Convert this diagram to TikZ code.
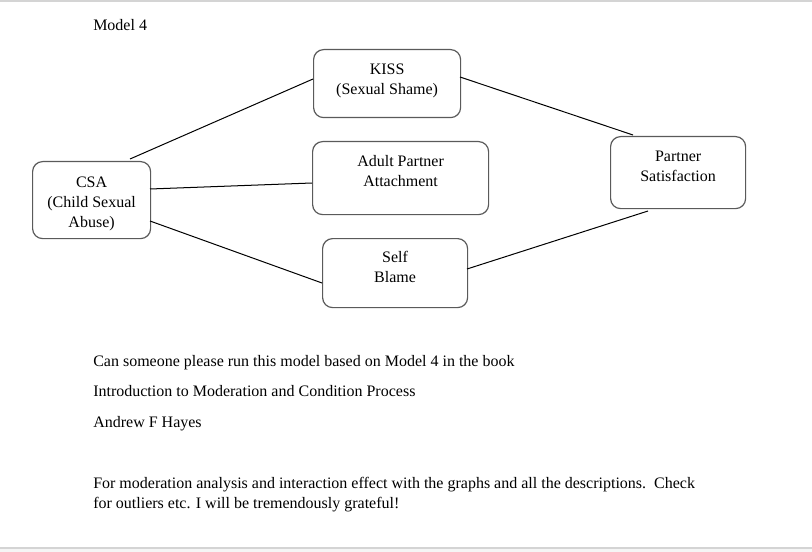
\documentclass[tikz,border=0pt]{standalone}
\usepackage{fontspec}
\setmainfont{Liberation Serif}
\definecolor{boxgray}{HTML}{5A5A5A}
\definecolor{edgegray}{HTML}{D4D4D4}
\newcommand\bxtext[4]{\parbox[c][\dimexpr #2pt*3/4\relax][t]{\dimexpr #1pt*3/4\relax}{\centering\rule{0pt}{#3pt}#4}}
\tikzset{
  varbox/.style={draw=boxgray, line width=0.9pt, rounded corners=7.5pt, inner sep=0pt, anchor=north west},
  link/.style={draw=black, line width=0.75pt},
  para/.style={anchor=base west, inner sep=0pt}
}
\begin{document}
\begin{tikzpicture}[x=0.75pt,y=-0.75pt,font=\fontsize{12}{15}\selectfont]
\path[use as bounding box, fill=white] (0,0) rectangle (812,552);
\fill[edgegray] (0,0) rectangle (812,2.5);
\fill[edgegray] (0,546.5) rectangle (812,548.5);
\fill[black!4] (0,548.5) rectangle (812,552);

\node[para] (title) at (93,31) {Model 4};

\node[varbox] (kiss) at (313,49) {\bxtext{147}{68}{18.75}{KISS\\(Sexual Shame)}};
\node[varbox] (adult) at (312,141) {\bxtext{176}{73}{19}{Adult Partner\\Attachment}};
\node[varbox] (self) at (322,238) {\bxtext{145}{69}{18}{Self\\Blame}};
\node[varbox] (csa) at (32,161) {\bxtext{118}{77}{19.25}{CSA\\(Child Sexual\\Abuse)}};
\node[varbox] (partner) at (610,136) {\bxtext{135}{72}{18.75}{Partner\\Satisfaction}};

\draw[link] ([shift={(98,-2)}]csa.north west) -- ([shift={(0,30)}]kiss.north west);
\draw[link] ([shift={(118,28)}]csa.north west) -- ([shift={(0,42)}]adult.north west);
\draw[link] ([shift={(118,60)}]csa.north west) -- ([shift={(0,45)}]self.north west);
\draw[link] ([shift={(147,28)}]kiss.north west) -- ([shift={(23,-1)}]partner.north west);
\draw[link] ([shift={(145,31)}]self.north west) -- ([shift={(38,75)}]partner.north west);

\node[para] (p1) at (93,366) {Can someone please run this model based on Model 4 in the book};
\node[para] (p2) at (93,396.5) {Introduction to Moderation and Condition Process};
\node[para] (p3) at (93,427) {Andrew F Hayes};
\node[para] (p4) at (93,488) {For moderation analysis and interaction effect with the graphs and all the descriptions.\hspace{0.5em}Check};
\node[para] (p5) at (93,508) {for outliers etc. I will be tremendously grateful!};
\end{tikzpicture}
\end{document}
